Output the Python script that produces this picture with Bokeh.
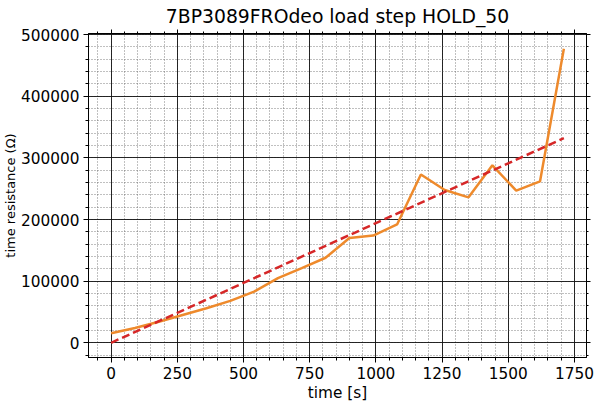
from bokeh.plotting import figure
from bokeh.models import (SingleIntervalTicker, LinearAxis, Range1d,
                          NumeralTickFormatter, Title, CustomJSTickFormatter)
from bokeh.embed import file_html
from bokeh.resources import INLINE

# ---- data ----
time_s = [0, 90, 180, 270, 360, 450, 540, 630, 720, 810,
          900, 990, 1080, 1170, 1260, 1350, 1440, 1530, 1620, 1710]
resistance = [15600, 24000, 34000, 45000, 56000, 68000, 83000, 105000, 121000, 138000,
              170000, 174000, 192000, 273000, 248000, 236000, 288000, 247000, 262000, 477000]
trend_x = [0, 1710]
trend_y = [0, 332000]

title_text = "7BP3089FROdeo load step HOLD_50"
x_label = "time [s]"
y_label = "time resistance (Ω)"

FONT = "DejaVu Sans"

p = figure(width=595, height=408, output_backend="svg", toolbar_location=None,
           x_range=Range1d(-85.5, 1795.5), y_range=Range1d(-23900, 501900),
           min_border_left=86, min_border_right=9, min_border_top=33, min_border_bottom=51,
           background_fill_color="white", border_fill_color="white")
p.title = None
t = Title(text=title_text, align="center", text_font=FONT, text_font_size="18.8px",
          text_font_style="normal", text_color="black", standoff=6, offset=0)

xt = SingleIntervalTicker(interval=250, num_minor_ticks=5)
yt = SingleIntervalTicker(interval=100000, num_minor_ticks=5)
p.xaxis.ticker = xt
p.yaxis.ticker = yt
p.xgrid.ticker = xt
p.ygrid.ticker = yt
p.yaxis.formatter = NumeralTickFormatter(format="0")

for ax in (p.xaxis[0], p.yaxis[0]):
    ax.axis_line_color = "black"
    ax.axis_line_width = 1
    ax.major_tick_line_color = "black"
    ax.minor_tick_line_color = "black"
    ax.major_tick_out = 5
    ax.major_tick_in = 0
    ax.minor_tick_out = 3
    ax.minor_tick_in = 0
    ax.major_label_text_font = FONT
    ax.major_label_text_font_size = "15.3px"
    ax.major_label_text_color = "black"
    ax.axis_label_text_font = FONT
    ax.axis_label_text_font_style = "normal"
    ax.axis_label_text_color = "black"

p.xaxis.axis_label_text_font_size = "15.3px"
p.xaxis.major_label_standoff = 4
p.xaxis.axis_label = x_label
p.xaxis.axis_label_standoff = 2

p.yaxis.axis_label = y_label
p.yaxis.axis_label_text_font_size = "13px"
p.yaxis.axis_label_standoff = 0
p.yaxis.major_label_standoff = 4

empty_fmt = CustomJSTickFormatter(code="return '';")
top_ax = LinearAxis(ticker=xt, formatter=empty_fmt, major_tick_out=4, major_tick_in=0,
                    minor_tick_out=2, minor_tick_in=0, axis_line_color="black",
                    major_label_text_font_size="0px", major_label_standoff=0)
right_ax = LinearAxis(ticker=yt, formatter=empty_fmt, major_tick_out=4, major_tick_in=0,
                      minor_tick_out=2, minor_tick_in=0, axis_line_color="black",
                      major_label_text_font_size="0px", major_label_standoff=0)
p.add_layout(top_ax, "above")
p.add_layout(right_ax, "right")
p.add_layout(t, "above")

for g in (p.xgrid[0], p.ygrid[0]):
    g.grid_line_color = "#111111"
    g.grid_line_width = 1
    g.grid_line_alpha = 0.9
    g.minor_grid_line_color = "#555555"
    g.minor_grid_line_dash = "1 2"
    g.minor_grid_line_width = 1
    g.minor_grid_line_alpha = 0.75

p.outline_line_color = "black"
p.outline_line_width = 1

p.line(time_s, resistance, line_color="#ee8a2c", line_width=2.5)
p.line(trend_x, trend_y, line_color="#d62728", line_width=2.5, line_dash="8 4")

open("out.html", "w").write(file_html(p, INLINE))
